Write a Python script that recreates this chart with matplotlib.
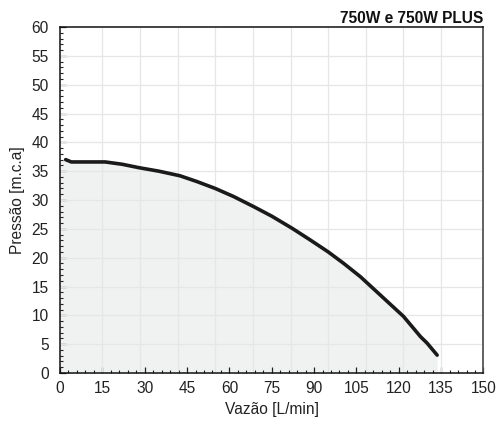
import numpy as np
import matplotlib.pyplot as plt
from matplotlib.ticker import MultipleLocator

plt.rcParams['font.family'] = ['Liberation Sans', 'DejaVu Sans']

# Pump curve (flow in L/min, head in m.c.a)
vazao = [2, 4, 10, 16, 22, 28, 35, 42.5, 48.5, 55, 61.5, 68.8, 75, 82.2,
         88.7, 95, 100.5, 106.4, 113.5, 121.7, 127.7, 130, 133.6]
pressao = [37.0, 36.6, 36.6, 36.6, 36.2, 35.6, 35.0, 34.2, 33.2, 32.0, 30.6,
           28.8, 27.2, 25.1, 23.05, 21.0, 19.0, 16.7, 13.5, 9.8, 6.3, 5.2,
           3.1]

x_ticks = np.arange(0, 151, 15)
y_ticks = np.arange(0, 61, 5)
titulo = '750W e 750W PLUS'

fig = plt.figure(figsize=(5.01, 4.22), dpi=100)
ax = fig.add_axes([0.1198, 0.1161, 0.8452, 0.8199])

# shaded area under the curve, starting at the left axis
fq = np.r_[0, vazao]
fh = np.r_[pressao[0], pressao]
ax.fill_between(fq, 0, fh, color='#f0f1f1', zorder=1, lw=0)

# grid: horizontal at the major y ticks, vertical on its own spacing
for y in y_ticks[1:-1]:
    ax.axhline(y, color='#e6e6e6', lw=0.9, zorder=2)
for x in np.linspace(15, 135, 10):
    ax.axvline(x, color='#e6e6e6', lw=0.9, zorder=2)

ax.plot(vazao, pressao, color='#1a1a1a', lw=2.6, solid_capstyle='round',
        solid_joinstyle='round', zorder=3)

ax.set_xlim(0, 150)
ax.set_ylim(0, 60)
ax.set_xticks(x_ticks)
ax.set_yticks(y_ticks)
ax.xaxis.set_minor_locator(MultipleLocator(3))
ax.yaxis.set_minor_locator(MultipleLocator(1))
ax.tick_params(which='both', direction='in', colors='#222222',
               labelsize=11.2)
ax.tick_params(which='major', length=4.5, width=0.9)
ax.tick_params(which='minor', length=2.2, width=0.8)
ax.tick_params(axis='x', pad=6)
ax.tick_params(axis='y', pad=8)

for s in ['left', 'bottom', 'top']:
    ax.spines[s].set_color('#111111')
    ax.spines[s].set_linewidth(1.1)
ax.spines['right'].set_color('#555555')
ax.spines['right'].set_linewidth(1.3)

ax.set_xlabel('Vazão [L/min]', fontsize=11.2, color='#222222', labelpad=4)
ax.set_ylabel('Pressão [m.c.a]', fontsize=11.2, color='#222222', labelpad=5)
ax.set_title(titulo, loc='right', fontsize=11.2, fontweight='bold',
             color='#111111', pad=3)

fig.savefig('out.png', dpi=100)
